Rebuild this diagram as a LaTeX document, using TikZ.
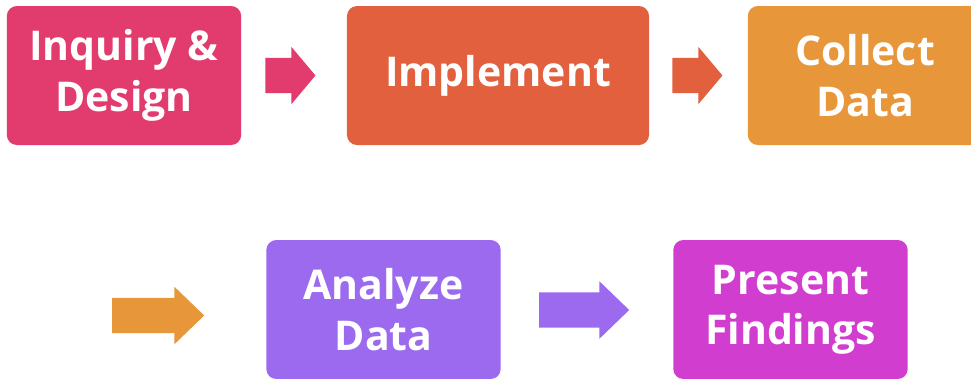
\documentclass[tikz,border=0pt]{standalone}
\usepackage{fontspec}
\setmainfont{Open Sans}
\usetikzlibrary{shapes.arrows}

\definecolor{inquirypink}{HTML}{E23B6E}
\definecolor{implorange}{HTML}{E3603F}
\definecolor{collectamber}{HTML}{E8963A}
\definecolor{analyzeviolet}{HTML}{9B6AEE}
\definecolor{presentmagenta}{HTML}{D13ECF}

\tikzset{
  stage/.style={fill=#1, rounded corners=0.3cm, text=white,
    font=\fontsize{35}{43}\selectfont\bfseries, align=center,
    minimum width=7.03cm, minimum height=4.17cm, inner sep=0pt},
  flow/.style={single arrow, fill=#1, inner xsep=0pt, inner ysep=0.525cm,
    single arrow head extend=0.33cm, minimum height=1.5cm},
}

\begin{document}
\begin{tikzpicture}[x=0.03cm, y=-0.03cm]
  \useasboundingbox (0,0) rectangle (971,378);
  \clip (0,0) rectangle (971,378);

  % top row
  \node[stage=inquirypink]  (inquiry) at (124,75.5)  {Inquiry \&\\Design};
  \node[stage=implorange, minimum width=9.06cm] (implement) at (498,75.5) {Implement};
  \node[stage=collectamber] (collect) at (865,75.5)  {Collect\\Data};

  % bottom row
  \node[stage=analyzeviolet]  (analyze) at (383.5,309.5) {Analyze\\Data};
  \node[stage=presentmagenta] (present) at (790.5,309.5) {Present\\Findings};

  % block arrows
  \node[flow=inquirypink, single arrow tip angle=100]  (a1) at (283,75.5) {};
  \node[flow=implorange, single arrow tip angle=100]   (a2) at (690,75.5) {};
  \node[flow=collectamber, minimum height=2.76cm, single arrow tip angle=88]  (a3) at (149,315.5) {};
  \node[flow=analyzeviolet, minimum height=2.7cm, single arrow tip angle=88] (a4) at (575,310) {};
\end{tikzpicture}
\end{document}
